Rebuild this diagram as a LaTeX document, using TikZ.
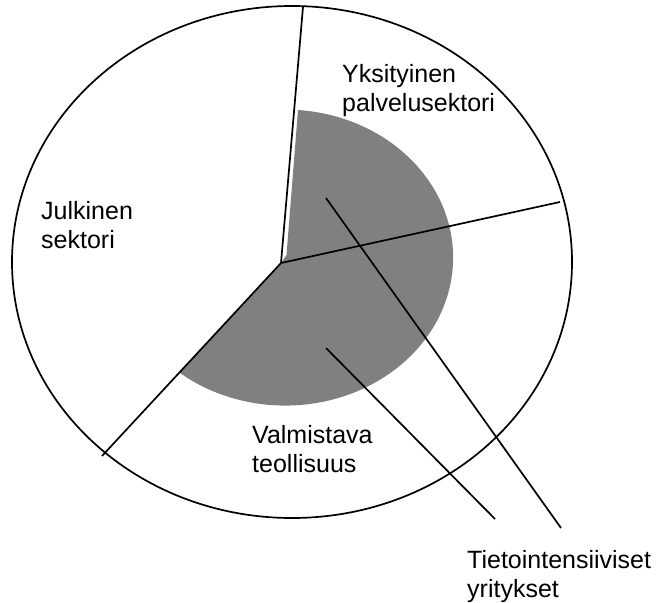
\documentclass[tikz,border=0pt]{standalone}
\usepackage{fontspec}
\setmainfont{Liberation Sans}
\begin{document}
\begin{tikzpicture}[x=1pt,y=-1pt,
  rule/.style={line width=1.7pt,black},
  sectorfill/.style={fill=black!50,draw=none},
  lbl/.style={anchor=north west,inner sep=0pt,align=left,
    font=\fontsize{25}{29}\selectfont}]
\useasboundingbox (0,0) rectangle (658,602);

% key points of the division
\coordinate (O) at (281,263);
\coordinate (T) at (303,7);
\coordinate (R) at (560,202);
\coordinate (L) at (102,456);
\coordinate (Gtop) at (298,110);
\coordinate (Gin) at (286.5,255);

% shaded area of knowledge-intensive firms
\fill[sectorfill] (O) -- (Gin) -- (Gtop)
  arc[start angle=-85.6,end angle=128.8,x radius=168,y radius=148] -- cycle;

% sector boundaries
\draw[rule] (O) -- (T);
\draw[rule] (O) -- (R);
\draw[rule] (O) -- (L);

% outer ellipse
\draw[rule] (292,262) ellipse[x radius=280,y radius=256];

% labels
\node[lbl] (priv) at (342,64.1) {Yksityinen\\palvelusektori};
\node[lbl] (publ) at (41,201.1) {Julkinen\\sektori};
\node[lbl] (manu) at (252,425.1) {Valmistava\\teollisuus};
\node[lbl] (know) at (467,550.1) {Tietointensiiviset\\yritykset};

% pointer lines to the shaded area
\coordinate (A1) at (326,198);
\coordinate (A2) at (561,528);
\coordinate (B1) at (326,348);
\coordinate (B2) at (495,519);
\draw[rule] (A1) -- (A2);
\draw[rule] (B1) -- (B2);
\end{tikzpicture}
\end{document}
